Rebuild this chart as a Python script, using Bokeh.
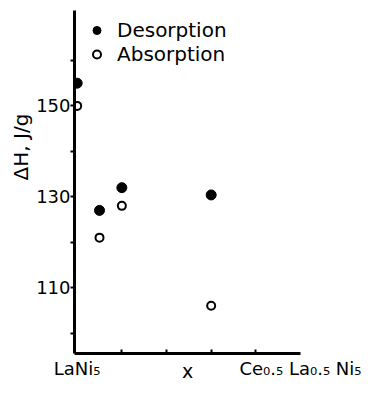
from bokeh.plotting import figure
from bokeh.models import FixedTicker, Range1d, Legend, LegendItem, ColumnDataSource
from bokeh.embed import file_html
from bokeh.resources import INLINE

# Data
x_comp = [0.0, 0.05, 0.10, 0.30]
desorption = [155, 127, 132, 130.4]
absorption = [150, 121, 128, 106]
y_major = [110, 130, 150]
y_minor = [100, 120, 140, 160]
x_major = [0.0, 0.5]
x_minor = [0.1, 0.2, 0.3, 0.4]
x_tick_labels = {0.0: "LaNi₅", 0.5: "Ce₀.₅ La₀.₅ Ni₅"}
series_names = ["Desorption", "Absorption"]
x_title = "x"
y_title = "\u00a0" * 11 + "ΔH, J/g"

FONT = "DejaVu Sans"
X0, X1, Y0, Y1 = -0.006, 0.5, 95.5, 171

p = figure(width=363, height=384, output_backend="svg", toolbar_location=None,
           x_range=Range1d(X0, X1), y_range=Range1d(Y0, Y1),
           min_border_left=74, min_border_right=63, min_border_top=10,
           min_border_bottom=31)
p.outline_line_color = None
p.grid.visible = False
p.background_fill_color = "white"
p.border_fill_color = "white"

src = ColumnDataSource(dict(x=x_comp, des=desorption, ab=absorption))
r1 = p.scatter("x", "des", source=src, size=10, fill_color="black",
               line_color="black", line_width=1)
r2 = p.scatter("x", "ab", source=src, size=8, fill_color="white",
               line_color="black", line_width=2)

# Y axis
ya = p.yaxis[0]
ya.ticker = FixedTicker(ticks=y_major, minor_ticks=y_minor)
ya.axis_line_width = 3
ya.axis_line_color = "black"
ya.major_tick_out = 4
ya.major_tick_in = 0
ya.minor_tick_out = 4
ya.minor_tick_in = 0
ya.major_tick_line_width = 2
ya.minor_tick_line_width = 2
ya.major_label_text_font = FONT
ya.major_label_text_font_size = "18px"
ya.major_label_text_color = "black"
ya.major_label_standoff = 0
ya.axis_label = y_title
ya.axis_label_text_font = FONT
ya.axis_label_text_font_size = "20px"
ya.axis_label_text_font_style = "normal"
ya.axis_label_text_color = "black"
ya.axis_label_standoff = 0

# X axis
xa = p.xaxis[0]
xa.ticker = FixedTicker(ticks=x_major, minor_ticks=x_minor)
xa.major_label_overrides = x_tick_labels
xa.axis_line_width = 3
xa.axis_line_color = "black"
xa.major_tick_out = 0
xa.major_tick_in = 0
xa.minor_tick_out = 0
xa.minor_tick_in = 4
xa.minor_tick_line_width = 2
xa.major_label_text_font = FONT
xa.major_label_text_font_size = "18px"
xa.major_label_text_color = "black"
xa.major_label_standoff = 4
xa.axis_label = x_title
xa.axis_label_text_font = FONT
xa.axis_label_text_font_size = "19px"
xa.axis_label_text_font_style = "normal"
xa.axis_label_text_color = "black"
xa.axis_label_standoff = -22

legend = Legend(items=[LegendItem(label=series_names[0], renderers=[r1]),
                       LegendItem(label=series_names[1], renderers=[r2])],
                location="top_left", border_line_color=None,
                background_fill_alpha=0, label_text_font=FONT,
                label_text_color="black",
                label_text_font_size="20px", glyph_width=29, glyph_height=20,
                label_standoff=6, margin=8, padding=3, spacing=0)
p.add_layout(legend)

open("out.html", "w").write(file_html(p, INLINE))
